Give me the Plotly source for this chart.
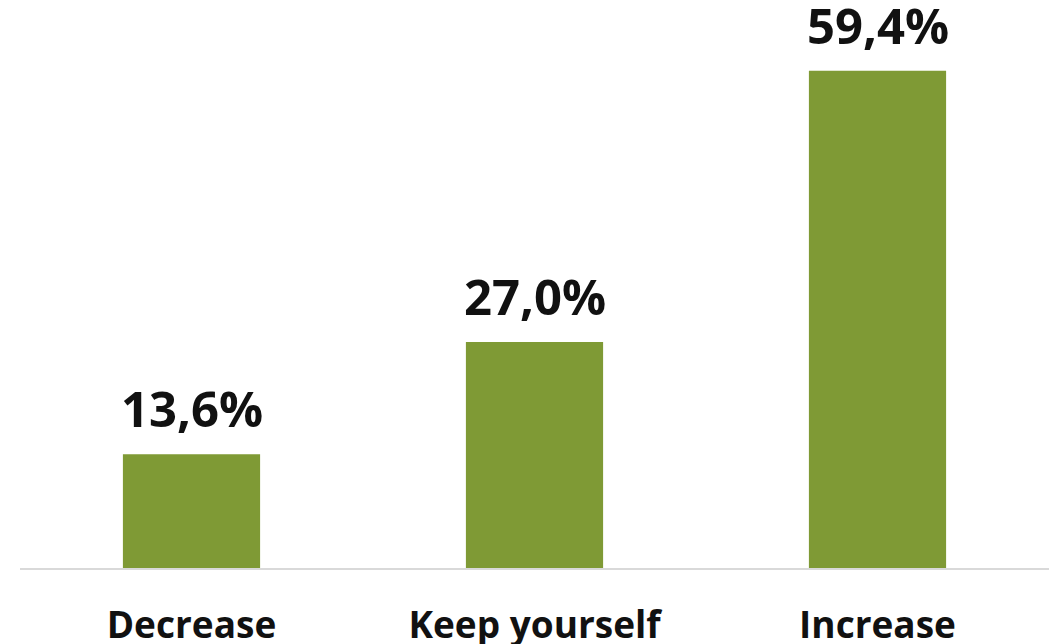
import plotly.graph_objects as go

categories = ["Decrease", "Keep yourself", "Increase"]
values = [13.6, 27.0, 59.4]
labels = ["13,6%", "27,0%", "59,4%"]

fig = go.Figure(go.Bar(
    x=categories, y=values,
    marker=dict(color="#7F9A35", line=dict(width=0)),
    width=0.4,
))
for c, v, t in zip(categories, values, labels):
    fig.add_annotation(x=c, y=v, text=t, showarrow=False, yanchor="bottom",
                       yshift=11,
                       font=dict(family="Open Sans", size=49, color="#111111", weight="bold"))
fig.update_layout(
    width=1049, height=644,
    margin=dict(l=20, r=0, t=0, b=76, autoexpand=False),
    plot_bgcolor="white", paper_bgcolor="white",
    showlegend=False,
    xaxis=dict(showline=True, linecolor="#d9d9d9", linewidth=2, ticks="",
               tickfont=dict(family="Open Sans", size=37, color="#111111", weight="bold"),
               ticklabelstandoff=24, automargin=False,
               showgrid=False),
    yaxis=dict(range=[0, 67.86], visible=False, showgrid=False, automargin=False),
)
fig.write_html("out.html", config={"displayModeBar": False},
               post_script="document.body.style.margin='0';document.body.style.overflow='hidden';")
